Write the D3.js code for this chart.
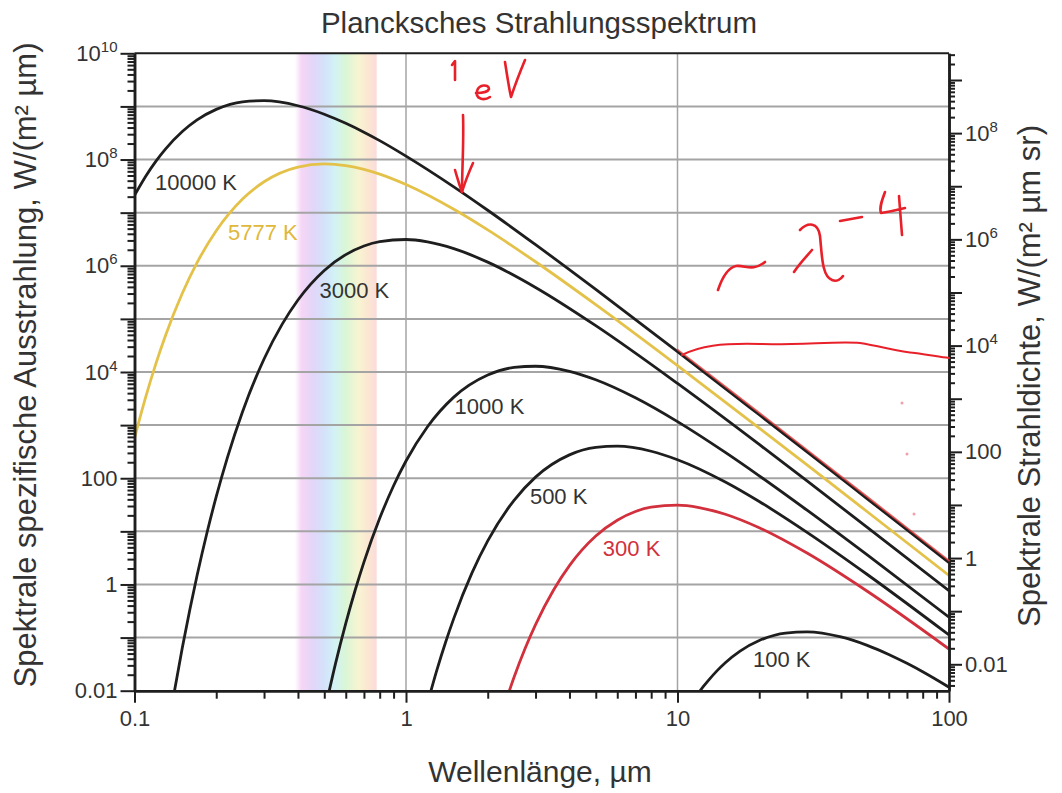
<!DOCTYPE html>
<html>
<head>
  <meta charset="utf-8">
  <title>Plancksches Strahlungsspektrum</title>
  <script src="https://d3js.org/d3.v7.min.js"></script>
  <style>
    body { margin: 0; background: #fff; }
    text { font-family: "Liberation Sans", Arial, sans-serif; fill: #333; }
  </style>
</head>
<body>
<div id="chart"></div>
<script>
  // Wellenlängen (µm) und spezifische Ausstrahlung W/(m² µm)
  const wl10000 = [0.1, 0.11, 0.12, 0.13, 0.15, 0.17, 0.2, 0.25, 0.3, 0.4, 0.5, 0.6, 0.7, 0.8, 1, 1.5, 2, 3, 5, 10, 20, 30, 50, 100];
  const m10000  = [2.11e7, 4.85e7, 9.33e7, 1.57e8, 3.36e8, 5.57e8, 8.79e8, 1.22e9, 1.28e9, 1.03e9, 7.14e8, 4.81e8, 3.27e8, 2.27e8, 1.16e8, 3.06e7, 1.11e7, 2.50e6, 3.59e5, 2.42e4, 1568, 314, 41.0, 2.58];

  const wl5777 = [0.1, 0.11, 0.12, 0.13, 0.15, 0.17, 0.2, 0.25, 0.3, 0.4, 0.5, 0.6, 0.7, 0.8, 1, 1.5, 2, 3, 5, 10, 20, 30, 50, 100];
  const m5777  = [571, 3409, 1.456e4, 4.82e4, 3.03e5, 1.144e6, 4.57e6, 1.807e7, 3.82e7, 7.23e7, 8.27e7, 7.69e7, 6.53e7, 5.31e7, 3.38e7, 1.156e7, 4.73e6, 1.19e6, 1.854e5, 1.323e4, 882, 178, 23.4, 1.48];

  const wl3000 = [0.14, 0.15, 0.16, 0.17, 0.185, 0.2, 0.22, 0.25, 0.3, 0.35, 0.4, 0.5, 0.6, 0.7, 0.8, 1, 1.2, 1.5, 2, 3, 5, 10, 20, 30, 50, 100];
  const m3000  = [0.0092, 0.0641, 0.342, 1.47, 9.51, 45.0, 247, 1786, 1.756e4, 7.97e4, 2.27e5, 8.17e5, 1.624e6, 2.36e6, 2.85e6, 3.12e6, 2.81e6, 2.10e6, 1.17e6, 3.90e5, 7.44e4, 6081, 432, 88.8, 11.9, 0.762];

  const wl1000 = [0.5, 0.55, 0.6, 0.65, 0.7, 0.8, 0.9, 1, 1.2, 1.5, 2, 2.5, 3, 4, 5, 7, 10, 15, 20, 30, 50, 100];
  const m1000  = [0.0038, 0.0324, 0.185, 0.786, 2.64, 17.6, 72.3, 211, 933, 3365, 8790, 1.218e4, 1.283e4, 1.029e4, 7137, 3269, 1163, 306, 111, 25.0, 3.59, 0.242];

  const wl500 = [1.2, 1.3, 1.4, 1.5, 1.75, 2, 2.5, 3, 4, 5, 6, 8, 10, 15, 20, 30, 50, 100];
  const m500  = [0.0058, 0.0246, 0.0824, 0.230, 1.65, 6.60, 38.4, 105, 275, 380, 401, 322, 223, 84.8, 36.4, 9.57, 1.54, 0.112];

  const wl300 = [2.3, 2.5, 2.75, 3, 3.5, 4, 5, 6, 7, 8, 10, 12, 15, 20, 30, 50, 100];
  const m300  = [0.0051, 0.0179, 0.0635, 0.176, 0.798, 2.27, 8.17, 16.2, 23.6, 28.5, 31.2, 28.1, 21.0, 11.7, 3.90, 0.744, 0.0608];

  const wl100 = [12, 12.5, 13, 14, 15, 17, 20, 25, 30, 40, 50, 60, 70, 80, 100];
  const m100  = [0.00933, 0.0123, 0.0157, 0.0239, 0.0337, 0.0557, 0.0879, 0.1218, 0.1283, 0.1029, 0.0714, 0.0481, 0.0327, 0.0227, 0.01163];

  const curveNames = ['10000 K', '5777 K', '3000 K', '1000 K', '500 K', '300 K', '100 K'];

  // Achsenbeschriftungen
  const xLabelTicks = [0.1, 1, 10, 100];
  const yLabelTicks = [0.01, 1, 100, 1e4, 1e6, 1e8, 1e10];
  const yRightLabelTicks = [0.01, 1, 100, 1e4, 1e6, 1e8];
  const visibleRange = [0.39, 0.78];

  const series = [
    {wl: wl10000, m: m10000, color: '#1e1e1e'},
    {wl: wl5777,  m: m5777,  color: '#e4c24a'},
    {wl: wl3000,  m: m3000,  color: '#1e1e1e'},
    {wl: wl1000,  m: m1000,  color: '#1e1e1e'},
    {wl: wl500,   m: m500,   color: '#1e1e1e'},
    {wl: wl300,   m: m300,   color: '#d2303c'},
    {wl: wl100,   m: m100,   color: '#1e1e1e'}
  ];
  // Lage der Kurvenbeschriftungen (µm, Wert)
  const labelAt = [[0.119, 2.7e7], [0.221, 3.0e6], [0.48, 2.5e5], [1.51, 1.6e3], [2.86, 33], [5.31, 3.4], [18.97, 0.028]];
  const labelColor = ['#333', '#e0b83a', '#333', '#333', '#333', '#d2303c', '#333'];

  const W = 1062, H = 793;
  const pL = 134.5, pR = 949, pT = 53.3, pB = 690.7;

  const svg = d3.select('#chart').append('svg')
      .attr('width', W).attr('height', H);

  const x = d3.scaleLog().domain([0.1, 100]).range([pL, pR]);
  const y = d3.scaleLog().domain([0.01, 1e10]).range([pB, pT]);
  const yR = d3.scaleLog().domain([0.01 / Math.PI, 1e10 / Math.PI]).range([pB, pT]);

  const defs = svg.append('defs');
  defs.append('clipPath').attr('id', 'plot')
    .append('rect').attr('x', pL).attr('y', pT)
    .attr('width', pR - pL).attr('height', pB - pT);

  const grad = defs.append('linearGradient').attr('id', 'vis')
    .attr('x1', '0%').attr('x2', '100%').attr('y1', '0%').attr('y2', '0%');
  [['0%', '#ffffff'], ['8%', '#f6d6f6'], ['22%', '#e2d6f8'], ['36%', '#d4e2fa'],
   ['48%', '#d2f2f6'], ['62%', '#daf6d6'], ['78%', '#f8f4d2'], ['90%', '#fbe6d2'], ['100%', '#fadcdc']]
    .forEach(([o, c]) => grad.append('stop').attr('offset', o).attr('stop-color', c));

  // sichtbarer Bereich
  svg.append('rect')
    .attr('x', x(visibleRange[0])).attr('y', pT)
    .attr('width', x(visibleRange[1]) - x(visibleRange[0]))
    .attr('height', pB - pT)
    .attr('fill', 'url(#vis)');

  // Gitter
  const gridY = d3.range(-1, 10).map(e => 10 ** e);
  svg.append('g').selectAll('line').data(gridY).join('line')
    .attr('x1', pL).attr('x2', pR)
    .attr('y1', d => y(d)).attr('y2', d => y(d))
    .attr('stroke', '#a4a4a4').attr('stroke-width', 2);
  svg.append('g').selectAll('line').data([1, 10]).join('line')
    .attr('x1', d => x(d)).attr('x2', d => x(d))
    .attr('y1', pT).attr('y2', pB)
    .attr('stroke', '#a4a4a4').attr('stroke-width', 1.5);

  // Kurven
  const line = d3.line()
    .x(d => x(d[0])).y(d => y(d[1]))
    .curve(d3.curveMonotoneX);

  const curves = svg.append('g').attr('clip-path', 'url(#plot)');
  series.forEach(s => {
    curves.append('path')
      .datum(s.wl.map((w, i) => [w, s.m[i]]))
      .attr('d', line)
      .attr('fill', 'none')
      .attr('stroke', s.color)
      .attr('stroke-width', 2.8);
  });

  svg.append('g').selectAll('text').data(curveNames).join('text')
    .attr('x', (d, i) => x(labelAt[i][0]))
    .attr('y', (d, i) => y(labelAt[i][1]))
    .attr('font-size', '22px')
    .style('fill', (d, i) => labelColor[i])
    .text(d => d);

  // Achsen
  function minorTicks(scale, lo, hi) {
    const out = [];
    for (let e = lo; e <= hi; e++) for (let k = 2; k <= 9; k++) {
      const v = k * 10 ** e;
      const [a, b] = scale.domain();
      if (v > a && v < b) out.push(v);
    }
    return out;
  }
  function label(sel, labelled) {
    sel.selectAll('.tick text').each(function(d) {
      const t = d3.select(this).text('');
      if (!labelled.some(v => Math.abs(Math.log10(v) - Math.log10(d)) < 1e-6)) return;
      const e = Math.round(Math.log10(d));
      if (e >= 4) {
        t.append('tspan').text('10');
        t.append('tspan').attr('dy', '-0.6em').attr('font-size', '15px').text(e);
      } else {
        t.text(d3.format('~g')(d));
      }
    });
  }
  function styleAxis(g) {
    g.select('.domain').attr('stroke', '#1e1e1e').attr('stroke-width', 2.5);
    g.selectAll('.tick line').attr('stroke', '#1e1e1e').attr('stroke-width', 2);
    g.selectAll('.tick text').attr('font-size', '22px')
      .attr('font-family', '"Liberation Sans", Arial, sans-serif').attr('fill', '#333');
  }

  // unten
  svg.append('g').attr('transform', `translate(0,${pB})`)
    .call(d3.axisBottom(x).tickValues(minorTicks(x, -1, 1)).tickSize(8).tickSizeOuter(0).tickFormat(''))
    .call(styleAxis);
  svg.append('g').attr('transform', `translate(0,${pB})`)
    .call(d3.axisBottom(x).tickValues(xLabelTicks).tickSize(12).tickSizeOuter(0).tickPadding(8))
    .call(styleAxis)
    .call(g => label(g, xLabelTicks));

  // links
  svg.append('g').attr('transform', `translate(${pL},0)`)
    .call(d3.axisLeft(y).tickValues(minorTicks(y, -2, 9)).tickSize(7).tickSizeOuter(0).tickFormat(''))
    .call(styleAxis);
  svg.append('g').attr('transform', `translate(${pL},0)`)
    .call(d3.axisLeft(y).tickValues(d3.range(-2, 11).map(e => 10 ** e)).tickSize(14).tickSizeOuter(0).tickPadding(3))
    .call(styleAxis)
    .call(g => label(g, yLabelTicks));

  // rechts
  svg.append('g').attr('transform', `translate(${pR},0)`)
    .call(d3.axisRight(yR).tickValues(minorTicks(yR, -3, 9)).tickSize(6).tickSizeOuter(0).tickFormat(''))
    .call(styleAxis);
  svg.append('g').attr('transform', `translate(${pR},0)`)
    .call(d3.axisRight(yR).tickValues(d3.range(-2, 10).map(e => 10 ** e)).tickSize(13).tickSizeOuter(0).tickPadding(3))
    .call(styleAxis)
    .call(g => label(g, yRightLabelTicks));

  // Rahmen oben
  svg.append('line').attr('x1', pL).attr('x2', pR).attr('y1', pT).attr('y2', pT)
    .attr('stroke', '#1e1e1e').attr('stroke-width', 2);

  // Titel
  svg.append('text').attr('x', 539).attr('y', 33).attr('text-anchor', 'middle')
    .attr('font-size', '29.5px').text('Plancksches Strahlungsspektrum');
  svg.append('text').attr('x', 540).attr('y', 782).attr('text-anchor', 'middle')
    .attr('font-size', '30px').text('Wellenlänge, µm');
  svg.append('text').attr('transform', 'translate(36,365) rotate(-90)')
    .attr('text-anchor', 'middle').attr('font-size', '31px')
    .text('Spektrale spezifische Ausstrahlung, W/(m² µm)');
  svg.append('text').attr('transform', 'translate(1040,376) rotate(-90)')
    .attr('text-anchor', 'middle').attr('font-size', '31px')
    .text('Spektrale Strahldichte, W/(m² µm sr)');

  // handschriftliche Notizen
  const pen = svg.append('g').attr('fill', 'none').attr('stroke', '#e8202a')
    .attr('stroke-width', 2.6).attr('stroke-linecap', 'round').attr('stroke-linejoin', 'round');
  pen.append('path').attr('d', 'M452,65 L455,61 L455,80');
  pen.append('path').attr('d', 'M476,93 C481,93 488,92 489,89 C489,84 479,84 477,91 C475,99 484,101 490,97');
  pen.append('path').attr('d', 'M505,62 C507,75 509,88 511,97 C515,85 520,72 525,60');
  pen.append('path').attr('d', 'M463,115 C464,140 462,170 462,192');
  pen.append('path').attr('d', 'M455,170 C458,180 460,187 462,192 C465,182 469,172 473,163');
  pen.append('path').attr('d', 'M718,290 C722,278 727,268 736,266 C746,265 752,272 765,262');
  pen.append('path').attr('d', 'M800,230 C808,222 818,222 820,236 C822,256 822,276 832,280 C837,282 841,279 843,276');
  pen.append('path').attr('d', 'M794,272 C800,263 806,257 812,250');
  pen.append('path').attr('d', 'M840,221 L862,217');
  pen.append('path').attr('d', 'M885,192 C882,200 879,208 881,213 C889,212 897,210 905,208 M899,196 C900,210 901,222 902,235');
  pen.append('path').attr('d', 'M682,355 C700,346 720,343 760,344 C800,345 840,341 860,343 C880,346 900,352 915,353 C930,355 940,357 949,358')
    .attr('stroke-width', 2);
  // rote Spur entlang der 10000-K-Kurve
  pen.append('path')
    .datum(wl10000.map((w, i) => [w, m10000[i]]).filter(d => d[0] >= 10))
    .attr('d', line)
    .attr('transform', 'translate(0,-2)')
    .attr('stroke', '#e23a3a').attr('stroke-width', 1.8).attr('opacity', 0.8);
  pen.selectAll('circle').data([[902, 403], [907, 454], [914, 514]]).join('circle')
    .attr('cx', d => d[0]).attr('cy', d => d[1]).attr('r', 1.5)
    .attr('fill', '#f0a0a8').attr('stroke', 'none');
</script>
</body>
</html>
